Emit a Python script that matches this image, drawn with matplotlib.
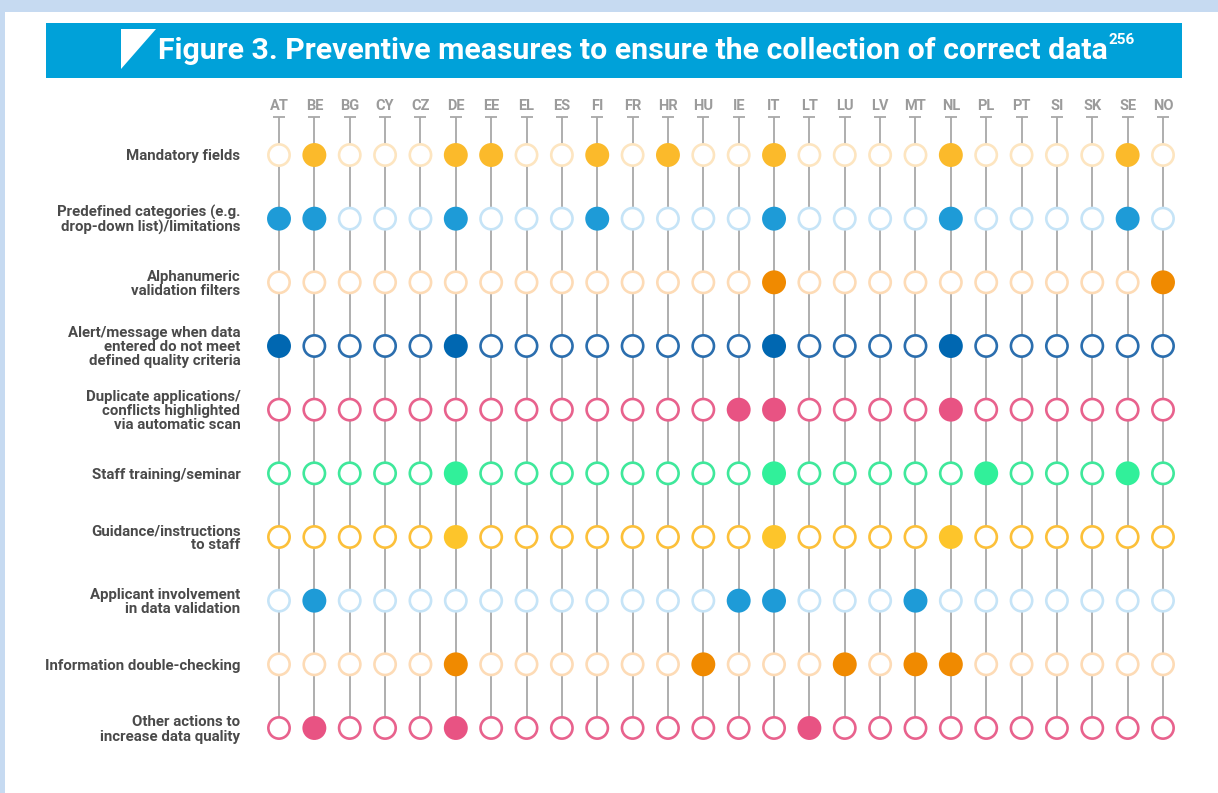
import matplotlib
matplotlib.use('Agg')
import matplotlib.pyplot as plt
from matplotlib.patches import Rectangle, Polygon
import numpy as np

plt.rcParams['font.family'] = ['Roboto', 'DejaVu Sans']

W, H = 1218, 793

countries = ['AT', 'BE', 'BG', 'CY', 'CZ', 'DE', 'EE', 'EL', 'ES', 'FI', 'FR', 'HR', 'HU',
             'IE', 'IT', 'LT', 'LU', 'LV', 'MT', 'NL', 'PL', 'PT', 'SI', 'SK', 'SE', 'NO']

measures = [
    'Mandatory fields',
    'Predefined categories (e.g.\ndrop-down list)/limitations',
    'Alphanumeric\nvalidation filters',
    'Alert/message when data\nentered do not meet\ndefined quality criteria',
    'Duplicate applications/\nconflicts highlighted\nvia automatic scan',
    'Staff training/seminar',
    'Guidance/instructions\nto staff',
    'Applicant involvement\nin data validation',
    'Information double-checking',
    'Other actions to\nincrease data quality',
]

# countries that apply each measure (filled circles)
mandatory_fields = ['BE', 'DE', 'EE', 'FI', 'HR', 'IT', 'NL', 'SE']
predefined_categories = ['AT', 'BE', 'DE', 'FI', 'IT', 'NL', 'SE']
alphanumeric_filters = ['IT', 'NO']
alert_message = ['AT', 'DE', 'IT', 'NL']
duplicate_scan = ['IE', 'IT', 'NL']
staff_training = ['DE', 'IT', 'PL', 'SE']
guidance_staff = ['DE', 'IT', 'NL']
applicant_involvement = ['BE', 'IE', 'IT', 'MT']
double_checking = ['DE', 'HU', 'LU', 'MT', 'NL']
other_actions = ['BE', 'DE', 'LT']

filled_rows = [mandatory_fields, predefined_categories, alphanumeric_filters, alert_message,
               duplicate_scan, staff_training, guidance_staff, applicant_involvement,
               double_checking, other_actions]

fill_colors = ['#FBBA2B', '#1E9BD7', '#F08A00', '#0067B1', '#E85383',
               '#31F09A', '#FDC52B', '#1E9BD7', '#F08A00', '#E85383']
edge_colors = ['#FDE5C0', '#C6E4F7', '#FDDBB6', '#2B6EAE', '#E8628D',
               '#3FE89B', '#FCC03A', '#C6E4F7', '#FDDBB6', '#E8628D']

fig = plt.figure(figsize=(W / 100, H / 100), dpi=100, facecolor='#C6DAF1')

# white panel and title bar
fig.patches.append(Rectangle((5 / W, 0), 1, 1 - 12 / H, transform=fig.transFigure,
                             facecolor='white', edgecolor='none', zorder=0))
fig.patches.append(Rectangle((46 / W, 1 - 78 / H), (1182 - 46) / W, 55 / H,
                             transform=fig.transFigure, facecolor='#00A1D9',
                             edgecolor='none', zorder=1))
fig.patches.append(Polygon([(121 / W, 1 - 29 / H), (156 / W, 1 - 29 / H), (121 / W, 1 - 69 / H)],
                           closed=True, transform=fig.transFigure, facecolor='white',
                           edgecolor='none', zorder=2))

title = fig.text(158 / W, 1 - 51 / H, 'Figure 3. Preventive measures to ensure the collection of correct data',
                 color='white', fontsize=21.8, fontweight='bold', va='center', ha='left', zorder=3)
fig.canvas.draw()
bb = title.get_window_extent()
fig.text(bb.x1 / W + 1 / W, 1 - 40 / H, '256', color='white', fontsize=11, fontweight='bold',
         va='center', ha='left', zorder=3)

# main grid axes
col_w = (1163 - 279) / (len(countries) - 1)
row_h = (728 - 155) / (len(measures) - 1)
left = 279 - 0.5 * col_w
right = 1163 + 0.5 * col_w
top = 155 - 0.6 * row_h
bottom = 728 + 0.4 * row_h
ax = fig.add_axes([left / W, 1 - bottom / H, (right - left) / W, (bottom - top) / H])
ax.set_zorder(5)
ax.set_facecolor('none')
ax.set_xlim(-0.5, len(countries) - 0.5)
ax.set_ylim(len(measures) - 0.6, -0.6)
for s in ax.spines.values():
    s.set_visible(False)

xs = np.arange(len(countries))
ax.vlines(xs, -0.6, len(measures) - 1, color='#A8A8A8', lw=1.3, zorder=1)
ax.plot(xs, np.full(len(xs), -0.6), ls='none', marker='_', ms=8, mew=1.3,
        color='#A8A8A8', zorder=1, clip_on=False)

for i, row in enumerate(filled_rows):
    is_filled = np.array([c in row for c in countries])
    fc = [fill_colors[i] if f else 'white' for f in is_filled]
    ec = [fill_colors[i] if f else edge_colors[i] for f in is_filled]
    ax.scatter(xs, np.full(len(xs), i), s=235, facecolors=fc, edgecolors=ec,
               linewidths=1.9, zorder=3, clip_on=False)

ax.xaxis.tick_top()
ax.set_xticks(xs, countries)
ax.tick_params(axis='x', length=0, pad=3, labelsize=10.5, labelcolor='#9B9B9B')
for lab in ax.get_xticklabels():
    lab.set_fontweight('bold')

ax.set_yticks(range(len(measures)), measures)
ax.tick_params(axis='y', length=0, pad=15, labelsize=10.8, labelcolor='#4A4A4A')
for lab in ax.get_yticklabels():
    lab.set_fontweight('bold')
    lab.set_linespacing(1.0)

fig.savefig('out.png', dpi=100, facecolor=fig.get_facecolor())
